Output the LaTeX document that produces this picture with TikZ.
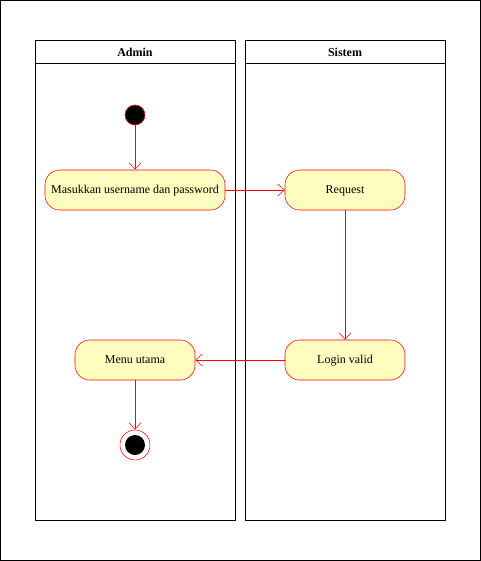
\documentclass[tikz,border=0pt]{standalone}
\usepackage{fontspec}
\setmainfont{Liberation Serif}
\usetikzlibrary{arrows.meta,positioning}

\tikzset{
  lane/.style={draw=black,line width=0.75pt},
  act/.style={draw=red,fill=yellow!25,rounded corners=11pt,minimum height=30pt,
              font=\fontsize{9}{11}\selectfont,inner sep=0pt,text depth=1pt},
  flow/.style={draw=red,-{Straight Barb[length=5pt,width=9pt]}},
}

\begin{document}
\begin{tikzpicture}[x=0.75pt,y=-0.75pt]
          \draw[lane] (0.5,0.5) rectangle (480.5,560.5);
          % lanes
          \draw[lane] (35,40) rectangle (235,520);
          \draw[lane] (35,63) -- (235,63);
          \node[font=\fontsize{9}{11}\selectfont\bfseries] (admin) at (135,52){Admin};
          \draw[lane] (245,40) rectangle (445,520);
          \draw[lane] (245,63) -- (445,63);
          \node[font=\fontsize{9}{11}\selectfont\bfseries] (sistem) at (345,52){Sistem};
          % nodes
          \node[circle,draw=red,fill=black,minimum size=15pt,inner sep=0pt] (start) at (135,115){};
          \node[act,minimum width=135pt] (masuk) at (135,190){Masukkan username dan password};
          \node[act,minimum width=90pt] (request) at (345,190){Request};
          \node[act,minimum width=90pt] (login) at (345,360){Login valid};
          \node[act,minimum width=90pt] (menu) at (135,360){Menu utama};
          \node[circle,draw=red,fill=white,minimum size=22.5pt,inner sep=0pt] (end) at (135,445){};
          \node[circle,fill=black,minimum size=15pt,inner sep=0pt] (endin) at (135,445){};
          % edges
          \draw[flow] (start) -- (masuk);
          \draw[flow] (masuk) -- (request);
          \draw[flow] (request) -- (login);
          \draw[flow] (login) -- (menu);
          \draw[flow] (menu) -- (end);
\end{tikzpicture}
\end{document}
